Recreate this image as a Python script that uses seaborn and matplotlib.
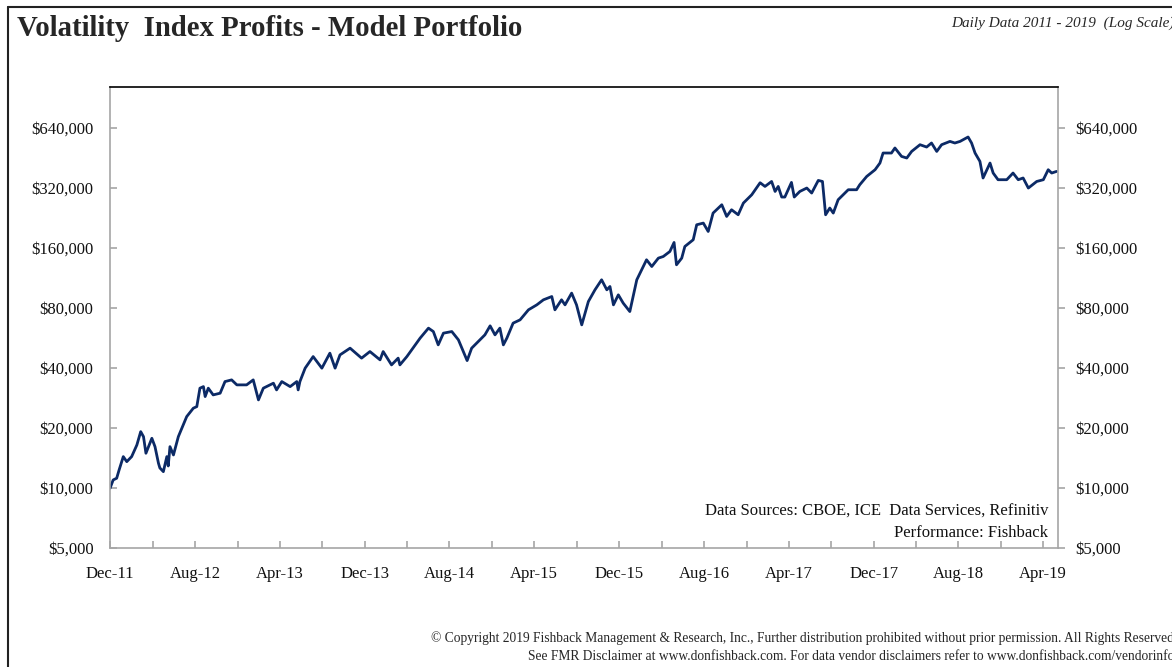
import pandas as pd
import matplotlib.pyplot as plt
import matplotlib.dates as mdates
import matplotlib.ticker as mticker
import seaborn as sns

sns.set_style("white")
plt.rcParams['font.family'] = ['Liberation Serif', 'DejaVu Serif']

# portfolio value (log scale)
dates = [
    '2011-12-01', '2011-12-10', '2011-12-20', '2011-12-27', '2012-01-08', '2012-01-18',
    '2012-02-01', '2012-02-16', '2012-02-27', '2012-03-06', '2012-03-13', '2012-03-30',
    '2012-04-08', '2012-04-18', '2012-04-22', '2012-05-02', '2012-05-12', '2012-05-16',
    '2012-05-21', '2012-05-31', '2012-06-14', '2012-07-08', '2012-07-27', '2012-08-06',
    '2012-08-15', '2012-08-25', '2012-08-30', '2012-09-08', '2012-09-22', '2012-10-12',
    '2012-10-26', '2012-11-14', '2012-11-29', '2012-12-27', '2013-01-15', '2013-01-30',
    '2013-02-13', '2013-03-14', '2013-03-23', '2013-04-07', '2013-05-01', '2013-05-20',
    '2013-05-24', '2013-05-29', '2013-06-13', '2013-07-06', '2013-07-31', '2013-08-23',
    '2013-09-07', '2013-09-21', '2013-10-20', '2013-11-22', '2013-12-16', '2014-01-14',
    '2014-01-23', '2014-02-16', '2014-03-07', '2014-03-12', '2014-04-01', '2014-05-09',
    '2014-06-02', '2014-06-16', '2014-06-30', '2014-07-15', '2014-08-08', '2014-08-27',
    '2014-09-10', '2014-09-21', '2014-10-04', '2014-10-28', '2014-11-11', '2014-11-26',
    '2014-12-10', '2014-12-24', '2015-01-03', '2015-01-13', '2015-01-31', '2015-02-20',
    '2015-03-16', '2015-04-09', '2015-04-28', '2015-05-22', '2015-05-31', '2015-06-19',
    '2015-06-29', '2015-07-18', '2015-08-01', '2015-08-16', '2015-09-04', '2015-09-23',
    '2015-10-12', '2015-10-27', '2015-11-05', '2015-11-15', '2015-11-29', '2015-12-13',
    '2016-01-01', '2016-01-21', '2016-02-04', '2016-02-18', '2016-03-04', '2016-03-23',
    '2016-04-06', '2016-04-25', '2016-05-07', '2016-05-14', '2016-05-29', '2016-06-07',
    '2016-07-01', '2016-07-11', '2016-07-30', '2016-08-13', '2016-08-27', '2016-09-21',
    '2016-10-05', '2016-10-19', '2016-11-07', '2016-11-22', '2016-12-16', '2017-01-09',
    '2017-01-23', '2017-02-11', '2017-02-21', '2017-03-02', '2017-03-12', '2017-03-21',
    '2017-04-09', '2017-04-17', '2017-05-03', '2017-05-23', '2017-06-06', '2017-06-25',
    '2017-07-07', '2017-07-16', '2017-07-28', '2017-08-07', '2017-08-21', '2017-09-19',
    '2017-10-13', '2017-10-22', '2017-11-11', '2017-12-05', '2017-12-19', '2017-12-28',
    '2018-01-21', '2018-01-31', '2018-02-19', '2018-03-06', '2018-03-20', '2018-04-13',
    '2018-05-02', '2018-05-16', '2018-05-31', '2018-06-14', '2018-07-08', '2018-07-22',
    '2018-08-06', '2018-08-29', '2018-09-08', '2018-09-18', '2018-10-02', '2018-10-11',
    '2018-10-31', '2018-11-09', '2018-11-23', '2018-12-18', '2019-01-05', '2019-01-20',
    '2019-02-03', '2019-02-18', '2019-03-14', '2019-04-02', '2019-04-16', '2019-04-26',
    '2019-05-10',
]
values = [
    9970, 10970, 11190, 12310, 14360, 13550,
    14360, 16430, 19160, 18080, 14930, 17750,
    16110, 13300, 12600, 12070, 14360, 12890,
    16110, 14640, 18080, 22790, 25110, 25580,
    31640, 32220, 28720, 31640, 29280, 29860,
    34150, 34820, 32870, 32870, 34820, 27640,
    31640, 33520, 31020, 34150, 32220, 34150,
    31020, 34150, 39860, 45570, 39860, 47400,
    39860, 46460, 50220, 44760, 48290, 43880,
    48290, 41400, 44760, 41400, 45570, 56370,
    63280, 60840, 52170, 59720, 60840, 55280,
    48290, 43500, 50220, 55280, 58560, 64980,
    58560, 63280, 52170, 56370, 67040, 69640,
    78170, 82800, 87760, 91140, 78170, 87760,
    82800, 94810, 82800, 65720, 86030, 98490,
    110560, 98490, 102330, 82800, 92930, 84480,
    76640, 110560, 124080, 139290, 128900, 142000,
    144660, 153300, 170130, 131450, 142000, 162430,
    175530, 208660, 212800, 193130, 238860, 262920,
    229740, 248180, 234260, 268140, 295100, 338980,
    324870, 344030, 306550, 324870, 287400, 287400,
    340230, 287400, 306550, 318900, 301000, 348200,
    344030, 234260, 253160, 238860, 278580, 312700,
    312700, 331200, 364560, 393950, 425600, 477720,
    477720, 506330, 459490, 450940, 486700, 525840,
    511900, 536290, 486700, 525840, 546330, 536290,
    546330, 574800, 536290, 477720, 433620, 358100,
    425600, 379200, 351050, 351050, 379200, 351050,
    358100, 318900, 344030, 351050, 393950, 379200,
    386400,
]
y_ticks = [5000, 10000, 20000, 40000, 80000, 160000, 320000, 640000]

df = pd.DataFrame({'date': pd.to_datetime(dates), 'value': values})

fig = plt.figure(figsize=(11.72, 6.67), dpi=100)
ax = fig.add_axes([0.0939, 0.1784, 0.8088, 0.6912])

sns.lineplot(data=df, x='date', y='value', ax=ax, color='#0c2a66', linewidth=2.0)

ax.set_yscale('log', base=2)
ax.set_ylim(5000, 1024000)
ax.set_xlim(pd.Timestamp('2011-12-01'), pd.Timestamp('2019-05-14'))
ax.set_xlabel('')
ax.set_ylabel('')

fmt = mticker.FuncFormatter(lambda v, p: f'${v:,.0f}')
ax.yaxis.set_major_locator(mticker.FixedLocator(y_ticks))
ax.yaxis.set_minor_locator(mticker.NullLocator())
ax.yaxis.set_major_formatter(fmt)

ax.xaxis.set_major_locator(mticker.FixedLocator(
    mdates.date2num(pd.date_range('2011-12-01', '2019-04-01', freq='8MS'))))
ax.xaxis.set_minor_locator(mticker.FixedLocator(
    mdates.date2num(pd.date_range('2012-04-01', '2019-04-01', freq='8MS'))))
ax.xaxis.set_major_formatter(mdates.DateFormatter('%b-%y'))

gray = '#a6a6a6'
for side in ['left', 'right', 'bottom']:
    ax.spines[side].set_color(gray)
    ax.spines[side].set_linewidth(1.2)
ax.spines['top'].set_color('black')
ax.spines['top'].set_linewidth(1.2)

ax.tick_params(axis='y', which='both', direction='in', length=5, width=1.2, color=gray,
               pad=12, labelsize=12, labelcolor='#111111', left=True)
ax.tick_params(axis='x', which='both', direction='in', length=5, width=1.2, color=gray,
               pad=13, labelsize=12, labelcolor='#111111', bottom=True)

ax2 = ax.twinx()
ax2.set_yscale('log', base=2)
ax2.set_ylim(ax.get_ylim())
ax2.yaxis.set_major_locator(mticker.FixedLocator(y_ticks))
ax2.yaxis.set_minor_locator(mticker.NullLocator())
ax2.yaxis.set_major_formatter(fmt)
ax2.tick_params(axis='y', direction='out', length=5, width=1.2, color=gray,
                pad=7.5, labelsize=12, labelcolor='#111111', right=True)
for side in ax2.spines:
    ax2.spines[side].set_visible(False)

ax.text(0.99, 0.078, 'Data Sources: CBOE, ICE  Data Services, Refinitiv', transform=ax.transAxes,
        ha='right', va='center', fontsize=12, color='#111111')
ax.text(0.99, 0.033, 'Performance: Fishback', transform=ax.transAxes,
        ha='right', va='center', fontsize=12, color='#111111')

fig.text(17 / 1172, 1 - 29 / 667, 'Volatility  Index Profits - Model Portfolio',
         ha='left', va='center', fontsize=20.7, fontweight='bold')
fig.text(1.002, 1 - 23 / 667, 'Daily Data 2011 - 2019  (Log Scale)',
         ha='right', va='center', fontsize=11, style='italic')
fig.text(1.002, 1 - 638 / 667,
         '\u00a9 Copyright 2019 Fishback Management & Research, Inc., Further distribution '
         'prohibited without prior permission. All Rights Reserved',
         ha='right', va='center', fontsize=9.75)
fig.text(1.002, 1 - 657 / 667,
         'See FMR Disclaimer at www.donfishback.com. For data vendor disclaimers refer to '
         'www.donfishback.com/vendorinfo',
         ha='right', va='center', fontsize=9.75)

# outer frame lines (top and left)
fig.add_artist(plt.Line2D([8 / 1172, 1], [1 - 7 / 667, 1 - 7 / 667], color='#222222', lw=1.5))
fig.add_artist(plt.Line2D([8 / 1172, 8 / 1172], [0, 1 - 7 / 667], color='#222222', lw=1.5))

fig.savefig('out.png', dpi=100)
